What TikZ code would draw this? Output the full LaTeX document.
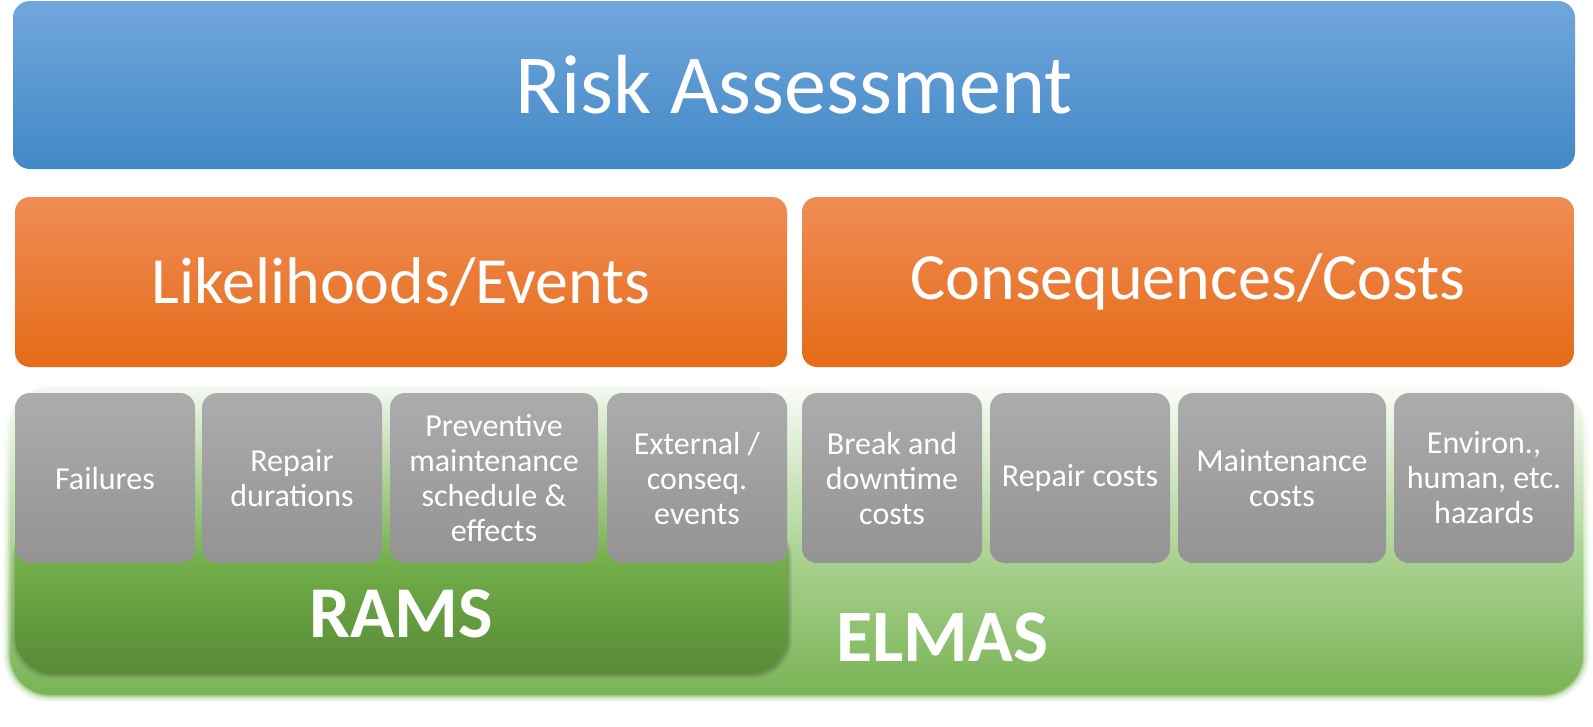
\documentclass[tikz,border=0pt]{standalone}
\usepackage{fontspec}
\setmainfont{Carlito}
\definecolor{blT}{HTML}{71A6DB}
\definecolor{blM}{HTML}{5499DA}
\definecolor{blB}{HTML}{4289C7}
\definecolor{orT}{HTML}{F08C55}
\definecolor{orM}{HTML}{F57E2B}
\definecolor{orB}{HTML}{E56B17}
\definecolor{grT}{HTML}{ACACAC}
\definecolor{grB}{HTML}{939393}
\definecolor{elT}{HTML}{FAFCF8}
\definecolor{elM}{HTML}{A6D08C}
\definecolor{elB}{HTML}{7AB356}
\definecolor{raT}{HTML}{F4F9F1}
\definecolor{raM}{HTML}{71AE48}
\definecolor{raB}{HTML}{578A36}
\pgfdeclareverticalshading{elmasshade}{100bp}{color(0bp)=(elB); color(25bp)=(elB); color(46bp)=(elM); color(75bp)=(elT); color(100bp)=(elT)}
\pgfdeclareverticalshading{ramsshade}{100bp}{color(0bp)=(raB); color(25bp)=(raB); color(44bp)=(raM); color(75bp)=(raT); color(100bp)=(raT)}
\begin{document}
\begin{tikzpicture}[x=1pt,y=-1pt,
  bluebox/.style={rounded corners=17pt, top color=blT, middle color=blM, bottom color=blB,
    text=white, inner sep=0pt, minimum height=168pt, font=\fontsize{84}{90}\selectfont},
  orangebox/.style={rounded corners=15pt, top color=orT, middle color=orM, bottom color=orB,
    text=white, inner sep=0pt, minimum width=772pt, minimum height=170pt, font=\fontsize{66}{72}\selectfont},
  graybox/.style={rounded corners=15pt, top color=grT, bottom color=grB,
    text=white, inner sep=0pt, minimum height=170pt, align=center, font=\fontsize{32}{35}\selectfont},
  biglabel/.style={text=white, inner sep=0pt, font=\bfseries\fontsize{#1}{#1}\selectfont}
]
\useasboundingbox (0,0) rectangle (1593,726);
% ELMAS area with soft edge
\foreach \e/\o/\r in {7/0.10/47,5/0.15/45,3/0.25/43,1.5/0.4/41.5}
  \path[shading=elmasshade, fill opacity=\o, rounded corners=\r pt] (10-\e,386) rectangle (1583+\e,695+\e);
\path[shading=elmasshade, rounded corners=40pt] (10,386) rectangle (1583,695);
% RAMS area with soft shadow at the bottom
\foreach \e/\o in {4/0.06,2.5/0.08,1/0.1}
  \fill[black, opacity=\o, rounded corners=38pt] (15-\e+1,520) rectangle (787+\e+1,673+\e+1);
\path[shading=ramsshade, rounded corners=38pt] (15,386) rectangle (787,673);
% top boxes
\node[bluebox, minimum width=1562pt] (risk) at (794,85) {Risk Assessment};
\node[orangebox] (like) at (401,282) {Likelihoods/Events};
\node[orangebox] (cons) at (1188,282) {Consequences/Costs};
% gray boxes
\node[graybox, minimum width=180pt] (g1) at (105,478) {Failures};
\node[graybox, minimum width=180pt] (g2) at (292,478) {Repair\\durations};
\node[graybox, minimum width=208pt] (g3) at (494,478) {Preventive\\maintenance\\schedule \&\\effects};
\node[graybox, minimum width=180pt] (g4) at (697,478) {External /\\conseq.\\events};
\node[graybox, minimum width=180pt] (g5) at (892,478) {Break and\\downtime\\costs};
\node[graybox, minimum width=180pt] (g6) at (1080,478) {Repair costs};
\node[graybox, minimum width=208pt] (g7) at (1282,478) {Maintenance\\costs};
\node[graybox, minimum width=180pt] (g8) at (1484,478) {Environ.,\\human, etc.\\hazards};
% labels
\node[biglabel=73] (rams) at (401,614) {RAMS};
\node[biglabel=74] (elmas) at (942,637) {ELMAS};
\end{tikzpicture}
\end{document}
